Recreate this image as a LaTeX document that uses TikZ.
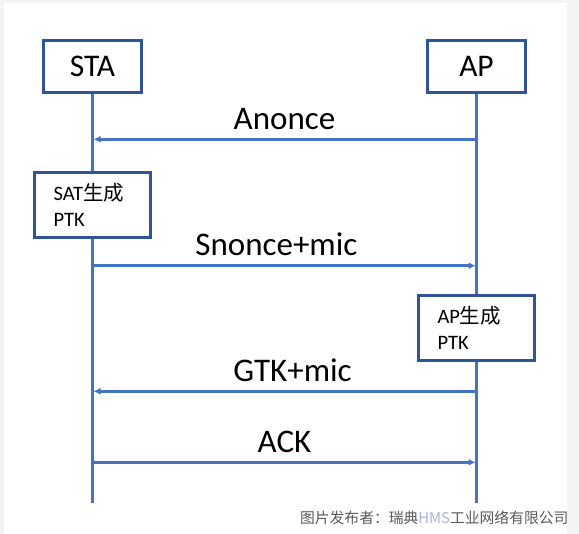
\documentclass[tikz,border=0pt]{standalone}
\usepackage{fontspec}
\setmainfont{Carlito}
\newfontfamily\cjk{Noto Sans CJK SC}
\usetikzlibrary{arrows.meta}
\definecolor{boxblue}{HTML}{2F5597}
\definecolor{lineblue}{HTML}{4472C4}
\definecolor{pagegrey}{HTML}{F4F4F4}
\definecolor{wmgrey}{HTML}{5A5A5A}
\definecolor{hmsblue}{HTML}{A9B4D8}

\begin{document}
\begin{tikzpicture}[x=1pt, y=-1pt, >={Latex[length=7pt,width=7pt]},
	actor/.style={draw=boxblue, line width=3pt, fill=white, minimum width=98pt, minimum height=52pt, font=\fontsize{31.5}{37}\selectfont},
	gen/.style={draw=boxblue, line width=3pt, fill=white, inner xsep=19pt, text width=78pt, minimum height=65pt, align=left, font=\fontsize{20.5}{25.7}\selectfont},
	life/.style={draw=lineblue, line width=3.2pt},
	msg/.style={draw=lineblue, line width=2.8pt, ->, shorten >=1pt},
	lbl/.style={anchor=base, yshift=10pt, font=\fontsize{33}{38}\selectfont}]
	\fill[pagegrey] (0,0) rectangle (579,534);
	\fill[white] (4,3) rectangle (567,534);
	\node[actor] (sta) at (92.5,66.5)  {STA};
	\node[actor] (ap)  at (476.5,66.5) {AP};
	\node[gen] (staptk) at (92.5,205)  {SAT{\cjk 生成}\\PTK};
	\node[gen] (apptk)  at (476.5,328) {AP{\cjk 生成}\\PTK};
	\coordinate (staend) at (92.5,503);
	\coordinate (apend)  at (476.5,503);
	\coordinate (sta1) at (92.5,139.3);
	\coordinate (ap1)  at (476.5,139.3);
	\coordinate (sta2) at (92.5,265.7);
	\coordinate (ap2)  at (476.5,265.7);
	\coordinate (sta3) at (92.5,391.3);
	\coordinate (ap3)  at (476.5,391.3);
	\coordinate (sta4) at (92.5,462.3);
	\coordinate (ap4)  at (476.5,462.3);
	\draw[life] (sta) -- (staptk);
	\draw[life] (staptk) -- (staend);
	\draw[life] (ap) -- (apptk);
	\draw[life] (apptk) -- (apend);
	\draw[msg] (ap1) -- node[lbl, pos=0.5]{Anonce} (sta1);
	\draw[msg] (sta2) -- node[lbl, pos=0.479]{Snonce+mic} (ap2);
	\draw[msg] (ap3) -- node[lbl, pos=0.479]{GTK+mic} (sta3);
	\draw[msg] (sta4) -- node[lbl, pos=0.5]{ACK} (ap4);
	\node[anchor=east, text=wmgrey, font=\cjk\fontsize{14.8}{16}\selectfont] (credit) at (572,518) {图片发布者：瑞典{\color{hmsblue}HMS}工业网络有限公司};
\end{tikzpicture}
\end{document}
